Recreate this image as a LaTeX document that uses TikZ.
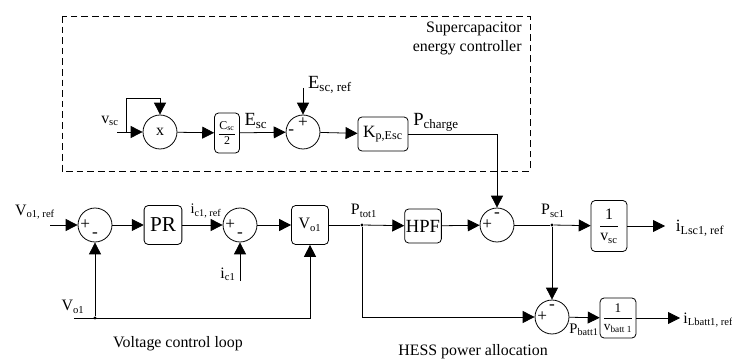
\documentclass[tikz,border=0pt]{standalone}
\usepackage{fontspec}
\setmainfont{Liberation Serif}
\usetikzlibrary{arrows.meta}
\newcommand{\frc}[2]{$\displaystyle{\mbox{#1}\over\mbox{#2}}$}

\begin{document}
\begin{tikzpicture}[
  x=0.0265cm, y=-0.0265cm, line width=0.6pt,
  sumnode/.style={draw, circle, minimum size=0.9cm, inner sep=0pt, font=\fontsize{12}{12}\selectfont},
  block/.style={draw, rounded corners=3pt, align=center, inner sep=1pt},
  arrow/.style={-{Triangle[length=9pt, width=9pt]}},
  sig/.style={inner sep=0pt, font=\fontsize{13}{13}\selectfont},
  dot/.style={circle, fill, inner sep=0pt, minimum size=2.5pt},
  lbl/.style={inner sep=0pt, font=\fontsize{12}{14}\selectfont}
]
\useasboundingbox (0,0) rectangle (732,362);
\draw[dash pattern=on 5pt off 3pt] (62,16) rectangle (530,171);
\node[lbl, align=right, anchor=north east] (sctitle) at (522,22) {Supercapacitor\\energy controller};

% energy controller
\coordinate (vscin) at (117,132);
\coordinate (vsctap) at (126,132);
\coordinate (fbtop) at (160,98);
\node[sumnode] (mul) at (160,132) {x};
\node[block, minimum width=0.66cm, minimum height=1.06cm, font=\fontsize{9}{9}\selectfont] (cfrac) at (227,133) {\frc{C\textsubscript{sc}}{2}};
\node[sumnode] (sumE) at (303,132) {};
\coordinate (escref) at (303,88);
\node[block, minimum width=1.33cm, minimum height=0.9cm, font=\fontsize{13}{13}\selectfont] (kp) at (383,134) {K\textsubscript{p,Esc}};
\node[lbl] (vsclbl) at (110,121) {v\textsubscript{sc}};
\node[lbl, font=\fontsize{14}{14}\selectfont] (esclbl) at (256,121) {E\textsubscript{sc}};
\node[lbl, font=\fontsize{14}{14}\selectfont] (escreflbl) at (330,85) {E\textsubscript{sc, ref}};
\node[lbl, font=\fontsize{14}{14}\selectfont] (pchlbl) at (436,122) {P\textsubscript{charge}};
\node[sig] at ([yshift=-0.2cm]sumE.north) {+};
\node[sig] at ([xshift=0.15cm]sumE.west) {-};

% voltage control loop
\coordinate (voref) at (50,225);
\node[sumnode] (sumV) at (95,225) {};
\node[block, minimum width=1.0cm, minimum height=1.03cm, font=\fontsize{16}{16}\selectfont] (pr) at (163,225) {PR};
\node[sumnode] (sumI) at (240,225) {};
\coordinate (ic) at (240,281);
\node[block, minimum width=0.98cm, minimum height=1.03cm, font=\fontsize{12}{12}\selectfont] (vo) at (310,225) {V\textsubscript{o1}};
\coordinate (vofb) at (74,318);
\node[dot] (vodot) at (95,318) {};
\node[lbl] (vorefl) at (35,212) {V\textsubscript{o1, ref}};
\node[lbl, font=\fontsize{11}{11}\selectfont] (icrefl) at (206,211) {i\textsubscript{c1, ref}};
\node[lbl] (icl) at (228,274) {i\textsubscript{c1}};
\node[lbl] (vol) at (73,307) {V\textsubscript{o1}};
\node[lbl] (vcl) at (178,344) {Voltage control loop};
\node[sig] at ([xshift=0.2cm]sumV.west) {+};
\node[sig] at ([yshift=0.2cm]sumV.south) {-};
\node[sig] at ([xshift=0.2cm]sumI.west) {+};
\node[sig] at ([yshift=0.2cm]sumI.south) {-};

% power allocation
\node[dot] (ptot) at (362,225) {};
\node[block, minimum width=0.74cm, minimum height=0.9cm, font=\fontsize{14}{14}\selectfont] (hpf) at (423,226) {HPF};
\node[sumnode] (sumP) at (497,225) {};
\node[dot] (psc) at (552,225) {};
\node[block, minimum width=0.95cm, minimum height=1.35cm, font=\fontsize{12}{12}\selectfont] (invsc) at (609,226) {\frc{1}{v\textsubscript{sc}}};
\coordinate (iscout) at (665,226);
\node[sumnode] (sumB) at (552,317) {};
\node[block, minimum width=0.95cm, minimum height=1.06cm, font=\fontsize{10}{10}\selectfont] (invb) at (618,318) {\frc{1}{v\textsubscript{batt 1}}};
\coordinate (ibout) at (680,318);
\node[lbl] (ptotl) at (364,211) {P\textsubscript{tot1}};
\node[lbl] (pscl) at (553,211) {P\textsubscript{sc1}};
\node[lbl, font=\fontsize{13}{13}\selectfont] (iscl) at (700,228) {i\textsubscript{Lsc1, ref}};
\node[lbl, font=\fontsize{11}{11}\selectfont] (pbl) at (584,330) {P\textsubscript{batt1}};
\node[lbl, font=\fontsize{12}{12}\selectfont, anchor=west] (ibl) at (683,320) {i\textsubscript{Lbatt1, ref}};
\node[lbl] (hessl) at (473,352) {HESS power allocation};
\node[sig] at ([yshift=-0.2cm]sumP.north) {-};
\node[sig] at ([xshift=0.2cm]sumP.west) {+};
\node[sig] at ([yshift=-0.2cm]sumB.north) {-};
\node[sig] at ([xshift=0.2cm]sumB.west) {+};

\draw[arrow] (vscin) -- (mul);
\draw[arrow] (vsctap) |- (fbtop) -- (mul.north);
\draw[arrow] (mul) -- (cfrac);
\draw[arrow] (cfrac) -- (sumE);
\draw[arrow] (escref) -- (sumE);
\draw[arrow] (sumE) -- (kp);
\draw[arrow] (kp.east) -| (sumP.north);
\draw[arrow] (voref) -- (sumV);
\draw[arrow] (sumV) -- (pr);
\draw[arrow] (pr) -- (sumI);
\draw[arrow] (ic) -- (sumI);
\draw[arrow] (sumI) -- (vo);
\draw[arrow] (vofb) -| (vo.south);
\draw[arrow] (vodot) -- (sumV);
\draw (vo) -- (ptot);
\draw[arrow] (ptot) -- (hpf);
\draw[arrow] (hpf) -- (sumP);
\draw (sumP) -- (psc);
\draw[arrow] (psc) -- (invsc);
\draw[arrow] (invsc) -- (iscout);
\draw[arrow] (psc) -- (sumB);
\draw[arrow] (ptot) |- (sumB);
\draw[arrow] (sumB) -- (invb);
\draw[arrow] (invb) -- (ibout);
\end{tikzpicture}
\end{document}
